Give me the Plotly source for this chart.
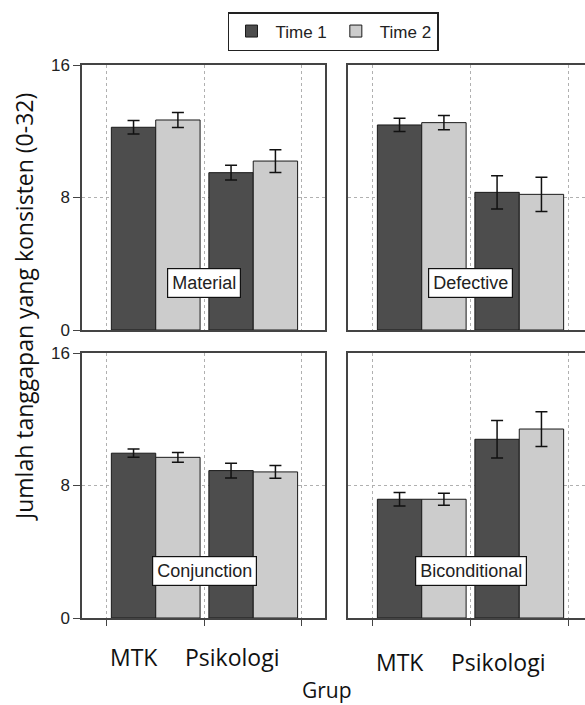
import plotly.graph_objects as go

# ---- data ----
groups = ["MTK", "Psikologi"]
series_names = ["Time 1", "Time 2"]
panels = ["Material", "Defective", "Conjunction", "Biconditional"]

material_t1 = [12.24, 9.50]
material_t2 = [12.68, 10.20]
material_err_t1 = [0.41, 0.45]
material_err_t2 = [0.45, 0.69]

defective_t1 = [12.38, 8.31]
defective_t2 = [12.52, 8.19]
defective_err_t1 = [0.40, 1.01]
defective_err_t2 = [0.43, 1.04]

conjunction_t1 = [9.95, 8.90]
conjunction_t2 = [9.70, 8.82]
conjunction_err_t1 = [0.25, 0.45]
conjunction_err_t2 = [0.29, 0.38]

biconditional_t1 = [7.17, 10.79]
biconditional_t2 = [7.17, 11.41]
biconditional_err_t1 = [0.41, 1.13]
biconditional_err_t2 = [0.36, 1.05]

y_tick_vals = [0, 8, 16]
y_tick_text = ["0", "8", "16"]
y_minor_vals = [4, 12]
x_grid_vals = [0.5, 1.5, 2.5]

values = {
    "Material": (material_t1, material_t2, material_err_t1, material_err_t2),
    "Defective": (defective_t1, defective_t2, defective_err_t1, defective_err_t2),
    "Conjunction": (conjunction_t1, conjunction_t2, conjunction_err_t1, conjunction_err_t2),
    "Biconditional": (biconditional_t1, biconditional_t2, biconditional_err_t1, biconditional_err_t2),
}

colors = ["#4d4d4d", "#cccccc"]
x_pos = [i + 1 for i in range(len(groups))]

fig = go.Figure()
axis_ids = ["", "2", "3", "4"]
for k, name in enumerate(panels):
    t1, t2, e1, e2 = values[name]
    for s, (vals, errs) in enumerate([(t1, e1), (t2, e2)]):
        fig.add_trace(go.Bar(
            x=x_pos, y=vals, name=series_names[s],
            marker=dict(color=colors[s], line=dict(color="#1a1a1a", width=1)),
            error_y=dict(type="data", array=errs, color="#111111", thickness=1.5, width=6),
            xaxis="x" + axis_ids[k], yaxis="y" + axis_ids[k],
            showlegend=(k == 0), legendgroup=series_names[s],
        ))

W, H = 585, 705
ML, MT, MB, MR = 82, 65, 87, 0
pw = W - ML - MR
ph = H - MT - MB
left_dom = [0, (325 - ML) / pw]
right_dom = [(348 - ML) / pw, 1]
top_dom = [(618 - 330) / ph, 1]
bot_dom = [0, (618 - 353) / ph]

line_col = "#444444"
grid_style = dict(showgrid=True, gridcolor="#b0b0b0", griddash="dot", gridwidth=1)


def xaxis(domain, anchor, ticks, rng, mirror):
    return dict(domain=domain, anchor=anchor, range=rng, tickvals=x_grid_vals,
                ticktext=["", "", ""], ticks=ticks, ticklen=6, tickcolor=line_col,
                showline=True, linecolor=line_col, linewidth=1.5, mirror=mirror,
                zeroline=False, **grid_style)


def yaxis(domain, anchor, show_labels, mirror):
    return dict(domain=domain, anchor=anchor, range=[0, 16], tickvals=y_tick_vals,
                ticktext=y_tick_text, showticklabels=show_labels,
                ticks="outside" if show_labels else "", ticklen=7, tickcolor=line_col,
                tickfont=dict(family="Liberation Sans", size=17, color="#222"),
                showline=True, linecolor=line_col, linewidth=1.5, mirror=mirror,
                zeroline=False, **grid_style)


def minor_axis(overlay, anchor):
    return dict(overlaying=overlay, anchor=anchor, side="left", range=[0, 16],
                tickvals=y_minor_vals, ticktext=["", ""], ticks="outside", ticklen=3,
                tickcolor=line_col, showgrid=False, showline=False, zeroline=False)


rng_left = [0.244, 2.736]
rng_right = [0.244, 2.674]

fig.update_layout(
    width=W, height=H,
    margin=dict(l=ML, r=MR, t=MT, b=MB),
    paper_bgcolor="white", plot_bgcolor="white",
    barmode="group", bargap=0.09, bargroupgap=0,
    xaxis=xaxis(left_dom, "y", "", rng_left, True),
    yaxis=yaxis(top_dom, "x", True, True),
    xaxis2=xaxis(right_dom, "y2", "", rng_right, True),
    yaxis2=yaxis(top_dom, "x2", False, False),
    xaxis3=xaxis(left_dom, "y3", "outside", rng_left, True),
    yaxis3=yaxis(bot_dom, "x3", True, True),
    xaxis4=xaxis(right_dom, "y4", "outside", rng_right, True),
    yaxis4=yaxis(bot_dom, "x4", False, False),
    yaxis5=minor_axis("y", "x"),
    yaxis6=minor_axis("y3", "x3"),
    legend=dict(orientation="h", x=(333 - ML) / pw, xanchor="center",
                y=1 + (MT - 12) / ph, yanchor="top",
                bordercolor="#222", borderwidth=1.5, bgcolor="white",
                font=dict(family="Liberation Sans", size=17, color="#222"),
                itemwidth=38, tracegroupgap=0),
    showlegend=True,
)

annotations = []
for k, name in enumerate(panels):
    annotations.append(dict(
        text=name, xref="x" + axis_ids[k], yref="y" + axis_ids[k] + " domain",
        x=1.5, y=0.12, showarrow=False, bgcolor="white", bordercolor="#111",
        borderwidth=1.2, borderpad=4,
        font=dict(family="Liberation Sans", size=18, color="#222")))

for k, yshift in [(2, -39), (3, -44)]:
    for i, g in enumerate(groups):
        annotations.append(dict(
            text=g, xref="x" + axis_ids[k], yref="y" + axis_ids[k] + " domain",
            x=x_pos[i] - 0.22, y=0, yshift=yshift, yanchor="middle", showarrow=False,
            font=dict(family="Open Sans", size=23, color="#111")))

annotations.append(dict(text="Grup", xref="paper", yref="paper",
                        x=(327 - ML) / pw, y=-(690 - (H - MB)) / ph, yanchor="middle",
                        xanchor="center", showarrow=False,
                        font=dict(family="Open Sans", size=21, color="#111")))
annotations.append(dict(text="Jumlah tanggapan yang konsisten (0-32)", xref="paper", yref="paper",
                        x=-(ML - 24) / pw, y=(H - MB - 307) / ph, textangle=-90,
                        xanchor="center", yanchor="middle", showarrow=False,
                        font=dict(family="Open Sans", size=23, color="#111")))
fig.update_layout(annotations=annotations)

fig.write_html("out.html")
